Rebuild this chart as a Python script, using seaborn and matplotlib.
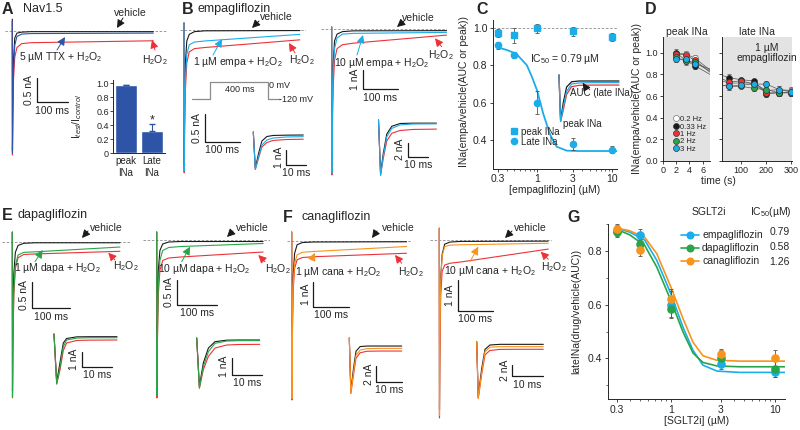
import matplotlib
matplotlib.use("Agg")
import matplotlib.pyplot as plt
import seaborn as sns
from matplotlib.lines import Line2D
from matplotlib.ticker import FixedLocator, FixedFormatter, NullFormatter, MultipleLocator

# ==================== DATA ====================
# A  Nav1.5 whole sweep (ms, nA)
a_t       = [0, 0.5, 1.5, 4, 8, 15, 30, 60, 455]
a_vehicle = [0.24, -2.50, -1.60, -0.60, -0.15, -0.05, -0.03, -0.02, -0.02]
a_h2o2    = [0.20, -2.59, -1.90, -1.00, -0.55, -0.35, -0.27, -0.25, -0.21]
a_ttx     = [0.20, -2.55, -1.70, -0.80, -0.30, -0.12, -0.07, -0.06, -0.05]
a_bar_labels = ["peak\nINa", "Late\nINa"]
a_bar_vals   = [0.97, 0.32]
a_bar_err    = [0.01, 0.10]

# B  empagliflozin
b1_t       = [0, 0.5, 1.5, 4, 8, 15, 30, 60, 331]
b1_vehicle = [0.13, -2.50, -1.50, -0.60, -0.20, -0.08, -0.03, -0.015, -0.01]
b1_h2o2    = [0.13, -2.61, -2.00, -1.10, -0.60, -0.40, -0.34, -0.32, -0.18]
b1_drug    = [0.13, -2.58, -1.80, -0.90, -0.45, -0.27, -0.22, -0.20, -0.08]
b1i_t       = [0, 1.0, 2.7, 4.3, 6.8, 10, 16.8, 25]
b1i_vehicle = [0, -2.40, -1.40, -0.60, -0.30, -0.23, -0.21, -0.20]
b1i_h2o2    = [0, -2.50, -1.70, -1.00, -0.70, -0.56, -0.50, -0.48]
b1i_drug    = [0, -2.50, -1.64, -0.87, -0.53, -0.40, -0.33, -0.31]
b2_t       = [0, 0.5, 1.5, 4, 8, 15, 30, 60, 322]
b2_vehicle = [0.12, -7.30, -4.50, -1.80, -0.60, -0.25, -0.12, -0.08, -0.07]
b2_h2o2    = [0.12, -7.55, -5.50, -3.00, -1.60, -1.00, -0.80, -0.72, -0.30]
b2_drug    = [0.12, -7.45, -5.00, -2.30, -1.00, -0.45, -0.25, -0.21, -0.16]
b2i_t       = [0, 1.0, 2.3, 4.0, 6.4, 10.4, 16.7, 28]
b2i_vehicle = [0, -7.6, -4.8, -2.0, -0.9, -0.50, -0.45, -0.45]
b2i_h2o2    = [0, -7.9, -5.5, -3.0, -1.9, -1.50, -1.35, -1.30]
b2i_drug    = [0, -7.9, -5.2, -2.4, -1.2, -0.70, -0.57, -0.55]
prot_t = [-125, 0, 0, 400, 400, 480]
prot_v = [-120, -120, 0, 0, -120, -120]

# C  concentration response, empagliflozin
c_conc     = [0.3, 0.5, 1, 3, 10]
c_peak     = [0.97, 0.96, 0.995, 0.98, 0.95]
c_peak_err = [0.02, 0.04, 0.025, 0.025, 0.02]
c_late     = [0.905, 0.855, 0.60, 0.38, 0.35]
c_late_err = [0.02, 0.015, 0.06, 0.03, 0.02]
c_fit_x = [0.31, 0.40, 0.53, 0.73, 0.85, 1.0, 1.21, 1.49, 1.82, 2.47, 3.5, 11.5]
c_fit_y = [0.893, 0.88, 0.86, 0.80, 0.74, 0.665, 0.54, 0.43, 0.366, 0.345, 0.343, 0.343]
ci_t       = [0, 0.8, 2.2, 3.8, 6.3, 10, 18, 30]
ci_vehicle = [0, -3.0, -1.8, -0.8, -0.45, -0.40, -0.40, -0.40]
ci_h2o2    = [0, -3.1, -2.3, -1.3, -0.78, -0.69, -0.67, -0.67]
ci_drug    = [0, -3.1, -2.1, -1.1, -0.60, -0.53, -0.51, -0.51]

# D  time / frequency dependence
d_hz = ["0.2 Hz", "0.33 Hz", "1 Hz", "2 Hz", "3 Hz"]
d_peak_t = [2, 3.4, 4.8]
d_peak = [[0.99, 0.99, 0.95],
          [1.00, 0.93, 0.88],
          [0.99, 0.98, 0.93],
          [0.96, 0.92, 0.91],
          [0.94, 0.94, 0.90]]
d_peak_err = [0.03, 0.03, 0.03]
d_peak_edge = [0.84, 0.80, 0.82, 0.83, 0.85]
d_late_t = [50, 100, 150, 200, 250, 300]
d_late = [[0.72, 0.72, 0.72, 0.65, 0.66, 0.65],
          [0.77, 0.75, 0.74, 0.62, 0.63, 0.64],
          [0.73, 0.74, 0.71, 0.63, 0.63, 0.63],
          [0.69, 0.69, 0.67, 0.66, 0.63, 0.63],
          [0.69, 0.70, 0.71, 0.71, 0.66, 0.64]]
d_late_err = [0.03, 0.02, 0.02, 0.03, 0.03, 0.03]
d_late_edge = [0.74, 0.79, 0.76, 0.70, 0.70]

# E  dapagliflozin
e1_t       = [0, 0.5, 1.5, 4, 8, 15, 30, 60, 281]
e1_vehicle = [0.18, -2.80, -1.60, -0.60, -0.20, -0.07, -0.03, -0.02, -0.02]
e1_h2o2    = [0.18, -2.93, -2.00, -1.00, -0.50, -0.30, -0.24, -0.23, -0.18]
e1_drug    = [0.18, -2.90, -1.90, -0.90, -0.45, -0.25, -0.20, -0.19, -0.10]
e1i_t       = [0, 0.9, 2.0, 3.1, 4.2, 7.6, 12, 21]
e1i_vehicle = [0, -3.20, -1.9, -0.60, -0.30, -0.19, -0.18, -0.18]
e1i_h2o2    = [0, -3.33, -2.4, -1.10, -0.60, -0.43, -0.41, -0.40]
e1i_drug    = [0, -3.33, -2.2, -0.84, -0.40, -0.27, -0.25, -0.25]
e2_t       = [0, 0.5, 1.5, 4, 8, 15, 30, 60, 266]
e2_vehicle = [0.17, -3.00, -1.70, -0.60, -0.20, -0.07, -0.03, -0.02, -0.02]
e2_h2o2    = [0.17, -3.15, -2.20, -1.10, -0.60, -0.40, -0.35, -0.33, -0.23]
e2_drug    = [0.17, -3.10, -2.00, -0.90, -0.40, -0.20, -0.14, -0.12, -0.06]
e2i_t       = [0, 0.9, 2.2, 3.9, 6.1, 10, 14, 21]
e2i_vehicle = [0, -2.9, -1.50, -0.60, -0.22, -0.13, -0.12, -0.12]
e2i_h2o2    = [0, -3.0, -1.90, -1.10, -0.60, -0.42, -0.39, -0.38]
e2i_drug    = [0, -3.0, -1.72, -0.82, -0.32, -0.18, -0.16, -0.16]

# F  canagliflozin
f1_t       = [0, 0.5, 1.5, 4, 8, 15, 30, 60, 319]
f1_vehicle = [0.36, -6.00, -3.50, -1.40, -0.50, -0.15, -0.06, -0.04, -0.03]
f1_h2o2    = [0.36, -6.36, -4.20, -2.00, -1.10, -0.75, -0.66, -0.63, -0.49]
f1_drug    = [0.36, -6.30, -4.00, -1.80, -0.90, -0.55, -0.45, -0.42, -0.22]
f1i_t       = [0, 0.6, 1.6, 2.6, 4.2, 6.8, 12, 20.4]
f1i_vehicle = [0, -6.8, -4.0, -1.7, -1.10, -1.03, -1.03, -1.03]
f1i_h2o2    = [0, -7.1, -4.8, -2.6, -1.90, -1.70, -1.67, -1.67]
f1i_drug    = [0, -7.1, -4.5, -2.2, -1.55, -1.37, -1.33, -1.33]
f2_t       = [0, 0.5, 1.5, 4, 8, 15, 30, 60, 305]
f2_vehicle = [0.40, -5.50, -3.00, -1.20, -0.45, -0.12, -0.05, -0.03, -0.02]
f2_h2o2    = [0.40, -5.78, -3.80, -1.80, -1.00, -0.80, -0.74, -0.70, -0.28]
f2_drug    = [0.40, -5.70, -3.30, -1.30, -0.50, -0.20, -0.15, -0.14, -0.09]
f2i_t       = [0, 0.5, 1.6, 2.7, 4.3, 7.6, 13, 21.7]
f2i_vehicle = [0, -10.0, -5.0, -1.4, -0.6, -0.48, -0.48, -0.48]
f2i_h2o2    = [0, -10.3, -6.0, -2.4, -1.6, -1.40, -1.38, -1.38]
f2i_drug    = [0, -10.3, -5.7, -1.8, -1.0, -0.90, -0.90, -0.90]

# G  all three SGLT2 inhibitors
g_conc  = [0.3, 0.5, 1, 3, 10]
g_names = ["empagliflozin", "dapagliflozin", "canagliflozin"]
g_ic50  = ["0.79", "0.58", "1.26"]
g_vals  = [[0.875, 0.86, 0.60, 0.38, 0.35],
           [0.87, 0.825, 0.585, 0.40, 0.36],
           [0.88, 0.805, 0.62, 0.415, 0.40]]
g_errs  = [[0.02, 0.02, 0.05, 0.02, 0.02],
           [0.02, 0.02, 0.03, 0.03, 0.03],
           [0.02, 0.025, 0.04, 0.02, 0.03]]
g_fit_x = [0.30, 0.40, 0.56, 0.73, 1.0, 1.30, 1.63, 2.03, 2.77, 4.6, 12.5]
g_fit   = [[0.885, 0.87, 0.84, 0.765, 0.64, 0.518, 0.43, 0.375, 0.353, 0.348, 0.348],
           [0.88, 0.86, 0.82, 0.74, 0.615, 0.50, 0.42, 0.385, 0.372, 0.369, 0.369],
           [0.885, 0.875, 0.85, 0.79, 0.665, 0.55, 0.46, 0.41, 0.393, 0.39, 0.39]]
# ===============================================

K, RED, NAVY, CYAN = "#1a1a1a", "#ed3237", "#2d54a6", "#1badea"
GREEN, ORANGE, GRAY = "#27a649", "#f7941d", "#8c8c8c"
FS = 7.5      # annotation / label size
TK = 7.5      # tick label size

sns.set_theme(style="ticks")
plt.rcParams["font.family"] = ["Liberation Sans", "DejaVu Sans"]
plt.rcParams["mathtext.fontset"] = "custom"
plt.rcParams["mathtext.rm"] = "Liberation Sans"
plt.rcParams["mathtext.it"] = "Liberation Sans:italic"
plt.rcParams["mathtext.bf"] = "Liberation Sans:bold"
plt.rcParams["axes.linewidth"] = 0.7
plt.rcParams["xtick.major.width"] = 0.6
plt.rcParams["ytick.major.width"] = 0.6
plt.rcParams["xtick.minor.width"] = 0.5
plt.rcParams["ytick.minor.width"] = 0.5

W, H = 800, 430
fig = plt.figure(figsize=(W / 100, H / 100), dpi=100)

# overlay in pixel units (y down) for texts, arrows and scale bars
ov = fig.add_axes([0, 0, 1, 1], zorder=10)
ov.set_xlim(0, W); ov.set_ylim(H, 0); ov.axis("off")


def px_axes(box):
    x0, y0, x1, y1 = box
    return fig.add_axes([x0 / W, 1 - y1 / H, (x1 - x0) / W, (y1 - y0) / H])


def trace_ax(box, t0, y0, px_ms, px_na, baseline=True):
    ax = px_axes(box)
    x0, ya, x1, yb = box
    ax.set_xlim((x0 - t0) / px_ms, (x1 - t0) / px_ms)
    ax.set_ylim(-(yb - y0) / px_na, (y0 - ya) / px_na)
    ax.axis("off")
    if baseline:
        ax.axhline(0, color=GRAY, lw=0.6, ls=(0, (3, 2)))
    return ax


def draw(ax, t, traces, lw=0.8):
    for y, c in traces:
        sns.lineplot(x=t, y=y, ax=ax, color=c, lw=lw, estimator=None,
                     sort=False, legend=False)


def scalebar(x, y, px_ms, px_na, t_len, i_len, t_lab, i_lab):
    h, v = t_len * px_ms, i_len * px_na
    ov.plot([x, x, x + h], [y - v, y, y], color=K, lw=0.9)
    ov.text(x - 7.5, y - v / 2, i_lab, rotation=90, ha="center", va="center", fontsize=FS)
    ov.text(x + h / 2, y + 8.5, t_lab, ha="center", va="center", fontsize=FS)


def txt(x, y, s, ha="center", fs=FS, **kw):
    ov.text(x, y, s, ha=ha, va="center", fontsize=fs, **kw)


def arrow(x1, y1, x2, y2, c):
    ov.annotate("", xy=(x2, y2), xytext=(x1, y1),
                arrowprops=dict(arrowstyle="-|>,head_length=0.4,head_width=0.2",
                                color=c, lw=0.7, shrinkA=0, shrinkB=0))


def panel(x, y, letter, title=None, tx=None):
    ov.text(x, y, letter, ha="left", va="center", fontsize=11.5, fontweight="bold")
    if title:
        ov.text(tx, y, title, ha="left", va="center", fontsize=9)


H2O2 = "H$_2$O$_2$"

# ---------------- A ----------------
panel(2, 9, "A", "Nav1.5", 23)
ax = trace_ax((5, 12, 167, 162), 12.3, 30.7, 0.31, 48)
draw(ax, a_t, [(a_vehicle, K), (a_h2o2, RED), (a_ttx, NAVY)])
scalebar(36.7, 102, 0.31, 48, 100, 0.5, "100 ms", "0.5 nA")
txt(130, 13, "vehicle"); arrow(123, 18, 117, 28, K)
txt(61, 57, "5 µM TTX + " + H2O2); arrow(57, 50, 65, 37, NAVY)
txt(155, 60, H2O2); arrow(155, 50, 152, 40, RED)

axb = px_axes((113, 79.8, 165, 153.3))
sns.barplot(x=a_bar_labels, y=a_bar_vals, color=NAVY, saturation=1, width=0.85, ax=axb)
axb.errorbar([0, 1], a_bar_vals, yerr=[[0, 0], a_bar_err], fmt="none",
             ecolor=NAVY, elinewidth=0.8, capsize=2)
axb.text(1, a_bar_vals[1] + a_bar_err[1] + 0.05, "*", ha="center", va="center", fontsize=9)
axb.set_ylim(0, 1.05); axb.set_xlim(-0.5, 1.5)
axb.set_yticks([0, 0.2, 0.4, 0.6, 0.8, 1.0])
axb.set_yticklabels(["0", "0.2", "0.4", "0.6", "0.8", "1.0"])
axb.tick_params(axis="y", labelsize=6.5, length=2, pad=1)
axb.tick_params(axis="x", labelsize=7, length=0, pad=2)
axb.set_ylabel("I$_{test}$/I$_{control}$", fontsize=FS)
axb.yaxis.set_label_coords(-0.55, 0.5)
sns.despine(ax=axb)

# ---------------- B ----------------
panel(182, 9, "B", "empagliflozin", 197)
ax = trace_ax((180, 12, 306, 178), 184, 30, 0.35, 54.7)
draw(ax, b1_t, [(b1_vehicle, K), (b1_h2o2, RED), (b1_drug, CYAN)])
scalebar(205, 141.7, 0.35, 54.7, 100, 0.5, "100 ms", "0.5 nA")
txt(276, 17, "vehicle"); arrow(259, 21, 252, 28, K)
txt(238, 62, "1 µM empa + " + H2O2); arrow(213, 55, 222, 39, CYAN)
txt(302, 60, H2O2); arrow(295, 53, 289, 43, RED)

ax = trace_ax((250, 128, 310, 172), 253.3, 132, 2.0, 15, baseline=False)
draw(ax, b1i_t, [(b1i_vehicle, K), (b1i_h2o2, RED), (b1i_drug, CYAN)])
scalebar(286, 165, 2.0, 15, 10, 1, "10 ms", "1 nA")

axp = px_axes((190, 78, 282, 102))
axp.set_xlim(-125 - 15, 480 + 15); axp.set_ylim(-141, 26); axp.axis("off")
sns.lineplot(x=prot_t, y=prot_v, ax=axp, color=GRAY, lw=0.9, estimator=None, sort=False)
txt(240, 89, "400 ms", fs=6.5)
txt(269, 86, "0 mV", ha="left", fs=6.5)
txt(279, 100, "-120 mV", ha="left", fs=6.5)

ax = trace_ax((321, 12, 447, 178), 331.7, 29.3, 0.357, 19.3)
draw(ax, b2_t, [(b2_vehicle, K), (b2_h2o2, RED), (b2_drug, CYAN)])
scalebar(362.7, 89.3, 0.357, 19.3, 100, 1, "100 ms", "1 nA")
txt(418, 18, "vehicle"); arrow(404, 21, 397, 27, K)
txt(382, 63, "10 µM empa + " + H2O2); arrow(357, 55, 363, 35, CYAN)
txt(441, 55, H2O2); arrow(441.7, 46.7, 435, 38.3, RED)

ax = trace_ax((375, 115, 440, 178), 378.5, 120, 2.07, 7, baseline=False)
draw(ax, b2i_t, [(b2i_vehicle, K), (b2i_h2o2, RED), (b2i_drug, CYAN)])
scalebar(407.7, 156.7, 2.07, 7, 10, 2, "10 ms", "2 nA")

# ---------------- C ----------------
panel(476, 9, "C")
axC = px_axes((493, 20, 617, 168.5))
axC.set_xscale("log")
axC.axhline(1.0, color=GRAY, lw=0.6, ls=(0, (3, 2)))
sns.lineplot(x=c_fit_x, y=c_fit_y, ax=axC, color=CYAN, lw=1.3, estimator=None, sort=False)
hp = axC.errorbar(c_conc, c_peak, yerr=c_peak_err, fmt="s", ms=3.8, color=CYAN,
                  ecolor="#555555", elinewidth=0.6, capsize=1.5, capthick=0.6)
hl = axC.errorbar(c_conc, c_late, yerr=c_late_err, fmt="o", ms=4.5, color=CYAN,
                  ecolor="#555555", elinewidth=0.6, capsize=1.5, capthick=0.6)
axC.set_xlim(0.26, 11.5); axC.set_ylim(0.25, 1.04)
axC.xaxis.set_major_locator(FixedLocator([0.3, 1, 3, 10]))
axC.xaxis.set_major_formatter(FixedFormatter(["0.3", "1", "3", "10"]))
axC.xaxis.set_minor_formatter(NullFormatter())
axC.set_yticks([0.4, 0.6, 0.8, 1.0])
axC.tick_params(labelsize=TK, length=2.5, pad=1.5)
axC.tick_params(which="minor", length=1.5)
axC.set_xlabel("[empagliflozin] (µM)", fontsize=FS, labelpad=1)
axC.set_ylabel("INa(empa/vehicle(AUC or peak))", fontsize=FS)
axC.yaxis.set_label_coords(-0.19, 0.52)
sns.despine(ax=axC)
axC.legend([hp[0], hl[0]], ["peak INa", "Late INa"], loc="upper left",
           bbox_to_anchor=(505 / W, 1 - 122 / H), bbox_transform=fig.transFigure,
           fontsize=7, frameon=False, borderpad=0, handlelength=0.8,
           handletextpad=0.3, labelspacing=0.0)
txt(530, 59, "IC$_{50}$ = 0.79 µM", ha="left")

ax = trace_ax((556, 72, 622, 124), 559, 75, 2.0, 15, baseline=False)
draw(ax, ci_t, [(ci_vehicle, K), (ci_h2o2, RED), (ci_drug, CYAN)], lw=0.9)
txt(570, 93, "AUC (late INa)", ha="left", fs=7)
arrow(586.7, 89, 582.7, 82.7, K)
txt(563, 124, "peak INa", ha="left", fs=7)

# ---------------- D ----------------
panel(645, 9, "D")
d_face = ["white", K, RED, GREEN, CYAN]
d_edge = ["#777777", "#333333", "#333333", "#333333", "#333333"]
axDp = px_axes((663, 37, 710, 161))
axDl = px_axes((722, 37, 792, 161))
for axd in (axDp, axDl):
    axd.set_facecolor("#e3e3e3")
    axd.set_ylim(0, 1.145)
    axd.set_yticks([0, 0.2, 0.4, 0.6, 0.8, 1.0])
    axd.tick_params(labelsize=6.5, length=2.5, pad=1.2)
    sns.despine(ax=axd)
for i in range(len(d_hz)):
    sns.lineplot(x=d_peak_t + [7.1], y=d_peak[i] + [d_peak_edge[i]], ax=axDp,
                 color="#555555", lw=0.5, estimator=None, sort=False)
    axDp.errorbar(d_peak_t, d_peak[i], yerr=d_peak_err, fmt="o", ms=4.3,
                  mfc=d_face[i], mec=d_edge[i], mew=0.5, ecolor="#555555",
                  elinewidth=0.5, capsize=1.2, capthick=0.5, zorder=3)
    sns.lineplot(x=[23] + d_late_t, y=[d_late_edge[i]] + d_late[i], ax=axDl,
                 color="#555555", lw=0.5, estimator=None, sort=False)
    axDl.errorbar(d_late_t, d_late[i], yerr=d_late_err, fmt="o", ms=4.3,
                  mfc=d_face[i], mec=d_edge[i], mew=0.5, ecolor="#555555",
                  elinewidth=0.5, capsize=1.2, capthick=0.5, zorder=3)
axDp.set_xlim(0, 7.1); axDp.set_xticks([0, 2, 4, 6])
axDp.set_yticklabels(["0.0", "0.2", "0.4", "0.6", "0.8", "1.0"])
axDl.set_xlim(23, 302); axDl.set_xticks([100, 200, 300])
axDl.set_yticklabels([])
axDp.set_ylabel("INa(empa/vehicle(AUC or peak))", fontsize=FS)
axDp.yaxis.set_label_coords(-0.45, 0.5)
d_handles = [Line2D([], [], ls="none", marker="o", ms=4.3, mfc=d_face[i],
                    mec=d_edge[i], mew=0.5) for i in range(len(d_hz))]
axDp.legend(d_handles, d_hz, loc="upper left", bbox_to_anchor=(670 / W, 1 - 112 / H),
            bbox_transform=fig.transFigure, fontsize=5.5, frameon=False, borderpad=0,
            handlelength=0.6, handletextpad=0.2, labelspacing=0.0)
txt(687, 32, "peak INa")
txt(757, 32, "late INa")
txt(767, 53, "1 µM\nempagliflozin", linespacing=1.1)
txt(718, 181, "time (s)")

# ---------------- E ----------------
panel(2, 215, "E", "dapagliflozin", 17)
ax = trace_ax((2, 228, 130, 402), 12.3, 241.7, 0.383, 53.3)
draw(ax, e1_t, [(e1_vehicle, K), (e1_h2o2, RED), (e1_drug, GREEN)])
scalebar(31.7, 308.3, 0.383, 53.3, 100, 0.5, "100 ms", "0.5 nA")
txt(106, 228, "vehicle"); arrow(88, 231, 82, 238, K)
txt(57, 268, "1 µM dapa + " + H2O2); arrow(35, 261.7, 42.7, 250, GREEN)
txt(126, 266, H2O2); arrow(115, 260, 108.3, 252.7, RED)
ax = trace_ax((50, 330, 120, 388), 54, 334, 3.0, 15, baseline=False)
draw(ax, e1i_t, [(e1i_vehicle, K), (e1i_h2o2, RED), (e1i_drug, GREEN)])
scalebar(81.7, 366.7, 3.0, 15, 10, 1, "10 ms", "1 nA")

ax = trace_ax((143, 228, 270, 402), 156.7, 240.5, 0.4, 50)
draw(ax, e2_t, [(e2_vehicle, K), (e2_h2o2, RED), (e2_drug, GREEN)])
scalebar(176.7, 305, 0.4, 50, 100, 0.5, "100 ms", "0.5 nA")
txt(252, 228, "vehicle"); arrow(233, 231, 227, 237, K)
txt(204, 269, "10 µM dapa + " + H2O2); arrow(181.7, 261.7, 190, 246.7, GREEN)
txt(278, 269, H2O2); arrow(265, 261.7, 258.3, 255, RED)
ax = trace_ax((193, 334, 264, 392), 196.7, 338, 3.0, 16.7, baseline=False)
draw(ax, e2i_t, [(e2i_vehicle, K), (e2i_h2o2, RED), (e2i_drug, GREEN)])
scalebar(231.7, 375, 3.0, 16.7, 10, 1, "10 ms", "1 nA")

# ---------------- F ----------------
panel(283, 217, "F", "canagliflozin", 302)
ax = trace_ax((287, 225, 412, 405), 291.7, 241, 0.36, 25)
draw(ax, f1_t, [(f1_vehicle, K), (f1_h2o2, RED), (f1_drug, ORANGE)])
scalebar(313.3, 306.7, 0.36, 25, 100, 1, "100 ms", "1 nA")
txt(398, 228, "vehicle"); arrow(377, 231, 372, 238, K)
txt(338, 272, "1 µM cana + " + H2O2); arrow(311.7, 260, 315, 252.7, ORANGE)
txt(411, 272, H2O2); arrow(401.7, 263.3, 395, 255, RED)
ax = trace_ax((346, 334, 404, 396), 349.3, 338, 2.57, 7.8, baseline=False)
draw(ax, f1i_t, [(f1i_vehicle, K), (f1i_h2o2, RED), (f1i_drug, ORANGE)])
scalebar(376, 381.7, 2.57, 7.8, 10, 2, "10 ms", "2 nA")

ax = trace_ax((430, 224, 552, 420), 439.3, 240.5, 0.357, 30.7)
draw(ax, f2_t, [(f2_vehicle, K), (f2_h2o2, RED), (f2_drug, ORANGE)])
scalebar(457.7, 310.7, 0.357, 30.7, 100, 1, "100 ms", "1 nA")
txt(530, 228, "vehicle"); arrow(512, 231, 505, 238, K)
txt(490, 271, "10 µM cana + " + H2O2); arrow(470, 261.7, 478.3, 246.7, ORANGE)
txt(554, 267, H2O2); arrow(548.3, 259.3, 540.7, 251.7, RED)
ax = trace_ax((473, 338, 546, 400), 476.7, 341.7, 3.07, 5.5, baseline=False)
draw(ax, f2i_t, [(f2i_vehicle, K), (f2i_h2o2, RED), (f2i_drug, ORANGE)])
scalebar(512, 376, 3.07, 5.5, 10, 2, "10 ms", "2 nA")

# ---------------- G ----------------
panel(567, 217, "G")
g_cols = [CYAN, GREEN, ORANGE]
axG = px_axes((608, 224, 785, 399.3))
axG.set_xscale("log")
for i in range(3):
    sns.lineplot(x=g_fit_x, y=g_fit[i], ax=axG, color=g_cols[i], lw=1.2,
                 estimator=None, sort=False)
for i in range(3):
    axG.errorbar(g_conc, g_vals[i], yerr=g_errs[i], fmt="o", ms=5.2, color=g_cols[i],
                 ecolor="#555555", elinewidth=0.6, capsize=1.5, capthick=0.6, zorder=3)
axG.set_xlim(0.248, 12.5); axG.set_ylim(0.248, 0.9)
axG.xaxis.set_major_locator(FixedLocator([0.3, 1, 3, 10]))
axG.xaxis.set_major_formatter(FixedFormatter(["0.3", "1", "3", "10"]))
axG.xaxis.set_minor_formatter(NullFormatter())
axG.set_yticks([0.4, 0.6, 0.8])
axG.yaxis.set_minor_locator(MultipleLocator(0.1))
axG.tick_params(labelsize=TK, length=2.5, pad=1.5)
axG.tick_params(which="minor", length=1.5)
axG.set_xlabel("[SGLT2i] (µM)", fontsize=FS, labelpad=1)
axG.set_ylabel("lateINa(drug/vehicle(AUC))", fontsize=FS)
axG.yaxis.set_label_coords(-0.15, 0.5)
sns.despine(ax=axG)
g_handles = [Line2D([], [], color=g_cols[i], lw=1.2, marker="o", ms=4.8) for i in range(3)]
axG.legend(g_handles, g_names, loc="upper left", bbox_to_anchor=(676 / W, 1 - 225 / H),
           bbox_transform=fig.transFigure, fontsize=FS, frameon=False, borderpad=0,
           handlelength=1.7, handletextpad=0.3, labelspacing=0.3)
txt(709, 212, "SGLT2i")
txt(792, 212, "IC$_{50}$(µM)", ha="right")
for i, v in enumerate(g_ic50):
    txt(790, 231.7 + 15 * i, v, ha="right")

fig.savefig("out.png", dpi=100)
